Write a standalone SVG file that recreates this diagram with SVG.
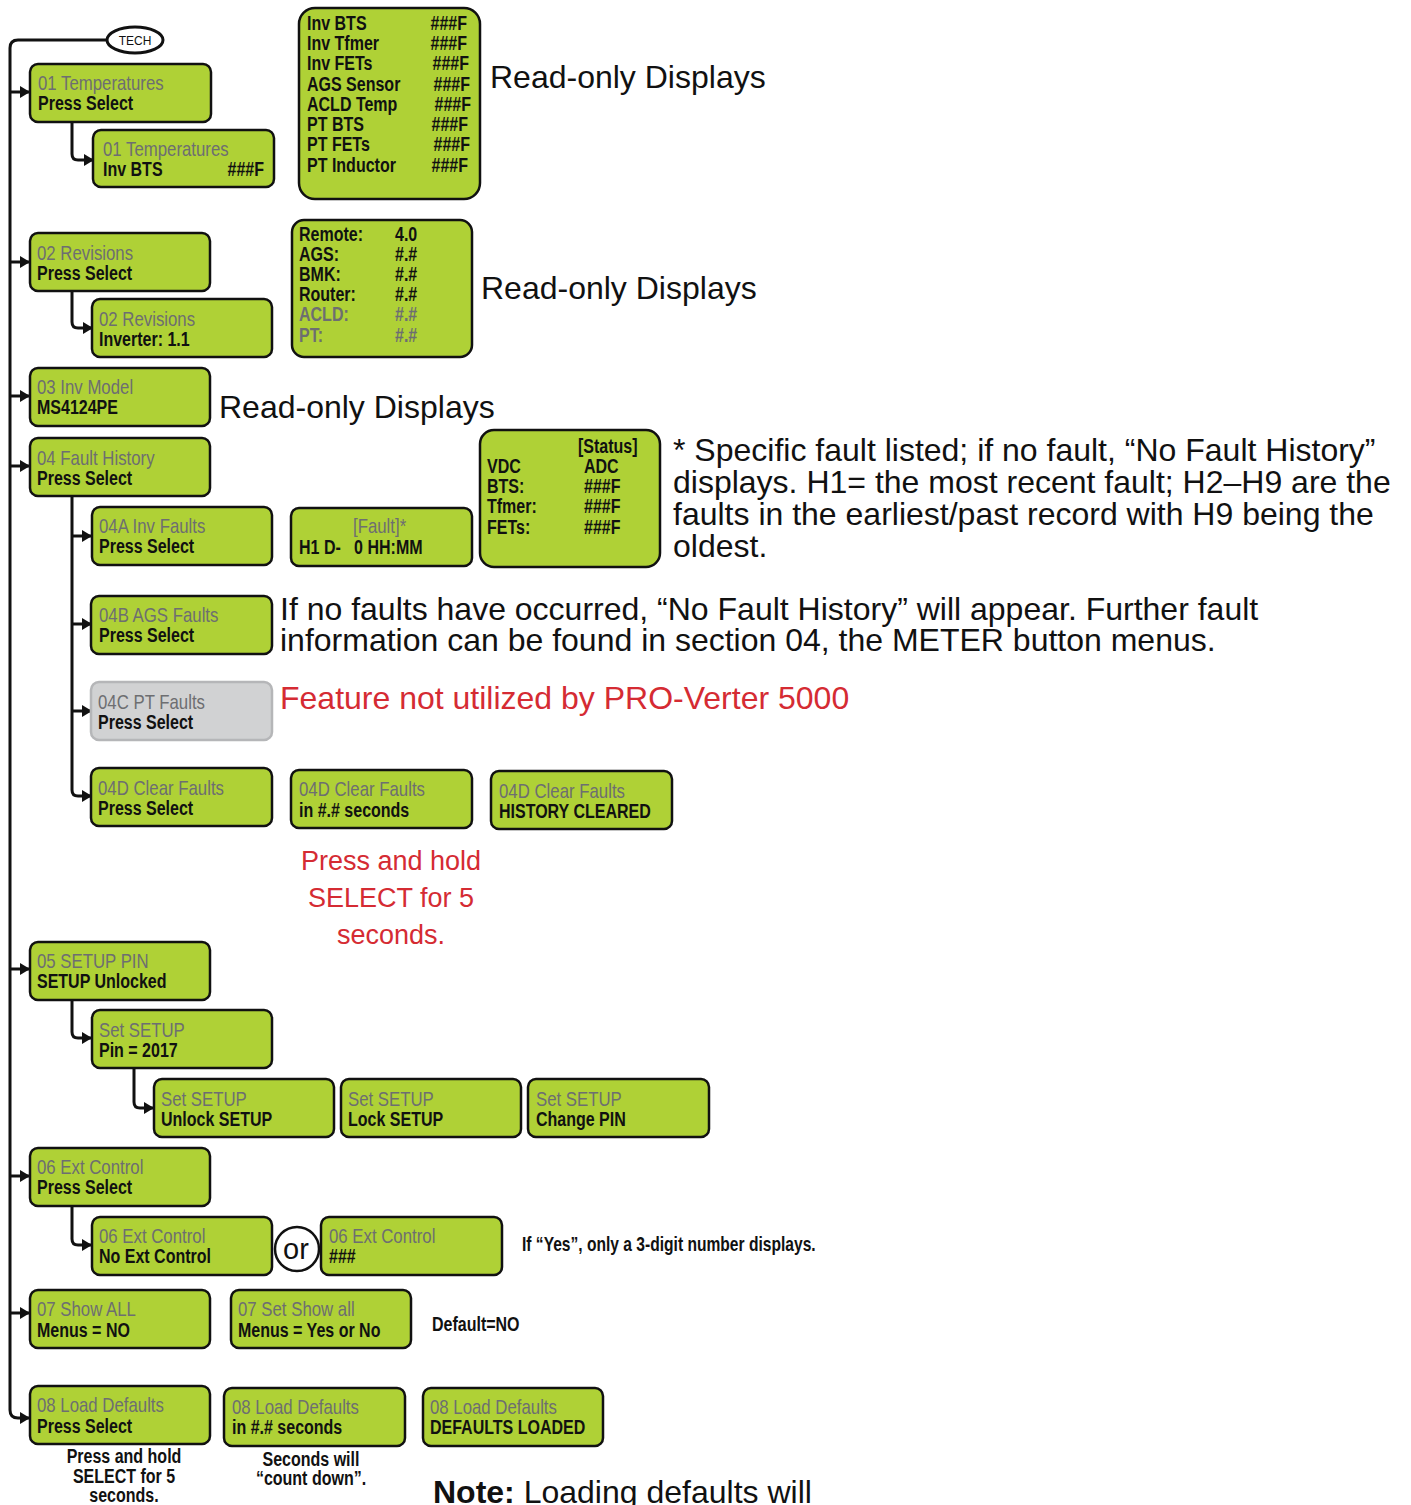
<svg xmlns="http://www.w3.org/2000/svg" width="1411" height="1505" viewBox="0 0 1411 1505">
<style>
.b{fill:#afd136;stroke:#111;stroke-width:2.5}
.g{fill:#d1d2d3;stroke:#b5b6b8;stroke-width:2.5}
.t1{font-family:"Liberation Sans",Arial,sans-serif;font-size:20px;fill:#6d6e71}
.t2{font-family:"Liberation Sans",Arial,sans-serif;font-size:20px;font-weight:bold;fill:#111}
.c{font-family:"Liberation Sans",Arial,sans-serif;font-size:20px;fill:#111}
.big{font-family:"Liberation Sans",Arial,sans-serif;font-size:32px;fill:#111}
.red{font-family:"Liberation Sans",Arial,sans-serif;fill:#d52b33}
.ln{fill:none;stroke:#111;stroke-width:3}
</style>
<defs>
<marker id="ah" markerUnits="userSpaceOnUse" markerWidth="10" markerHeight="12" refX="9" refY="6" orient="auto">
<path d="M0,0 L10,6 L0,12 z" fill="#111"/>
</marker>
</defs>
<g id="connectors">
<path class="ln" d="M108,40 H18 Q10,40 10,48 V1410 Q10,1418 18,1418 H29" marker-end="url(#ah)"/>
<path class="ln" d="M10,92 H29" marker-end="url(#ah)"/>
<path class="ln" d="M10,262 H29" marker-end="url(#ah)"/>
<path class="ln" d="M10,396 H29" marker-end="url(#ah)"/>
<path class="ln" d="M10,466 H29" marker-end="url(#ah)"/>
<path class="ln" d="M10,969 H29" marker-end="url(#ah)"/>
<path class="ln" d="M10,1176 H29" marker-end="url(#ah)"/>
<path class="ln" d="M10,1313 H29" marker-end="url(#ah)"/>
<path class="ln" d="M72,122 V154 Q72,160 78,160 H93" marker-end="url(#ah)"/>
<path class="ln" d="M72,291 V322 Q72,328 78,328 H92" marker-end="url(#ah)"/>
<path class="ln" d="M72,496 V790 Q72,796 78,796 H91" marker-end="url(#ah)"/>
<path class="ln" d="M72,536 H91" marker-end="url(#ah)"/>
<path class="ln" d="M72,624 H91" marker-end="url(#ah)"/>
<path class="ln" d="M72,711 H91" marker-end="url(#ah)"/>
<path class="ln" d="M72,1000 V1032 Q72,1038 78,1038 H91" marker-end="url(#ah)"/>
<path class="ln" d="M134,1068 V1102 Q134,1108 140,1108 H153" marker-end="url(#ah)"/>
<path class="ln" d="M72,1206 V1239 Q72,1245 78,1245 H91" marker-end="url(#ah)"/>
</g>
<g id="tech">
<ellipse cx="135" cy="40" rx="28" ry="13" fill="#fff" stroke="#111" stroke-width="3"/>
<text x="135" y="45" text-anchor="middle" font-family="Liberation Sans,Arial,sans-serif" font-size="12" fill="#111">TECH</text>
</g>
<g id="n01">
<rect class="b" x="30" y="64" width="181" height="58" rx="8"/>
<text class="t1" transform="translate(38,90) scale(.84,1)">01 Temperatures</text>
<text class="t2" transform="translate(38,110) scale(.8,1)">Press Select</text>
</g>
<g id="n01a">
<rect class="b" x="93" y="130" width="181" height="57" rx="8"/>
<text class="t1" transform="translate(103,156) scale(.84,1)">01 Temperatures</text>
<text class="t2" transform="translate(103,176) scale(.8,1)">Inv BTS</text>
<text class="t2" text-anchor="end" transform="translate(264,176) scale(.8,1)">###F</text>
</g>
<g id="temps">
<rect class="b" x="299" y="8" width="181" height="191" rx="16"/>
<text class="t2" transform="translate(307,30) scale(.8,1)">Inv BTS</text><text class="t2" text-anchor="end" transform="translate(467,30) scale(.8,1)">###F</text>
<text class="t2" transform="translate(307,50) scale(.8,1)">Inv Tfmer</text><text class="t2" text-anchor="end" transform="translate(467,50) scale(.8,1)">###F</text>
<text class="t2" transform="translate(307,70) scale(.8,1)">Inv FETs</text><text class="t2" text-anchor="end" transform="translate(469,70) scale(.8,1)">###F</text>
<text class="t2" transform="translate(307,91) scale(.8,1)">AGS Sensor</text><text class="t2" text-anchor="end" transform="translate(470,91) scale(.8,1)">###F</text>
<text class="t2" transform="translate(307,111) scale(.8,1)">ACLD Temp</text><text class="t2" text-anchor="end" transform="translate(471,111) scale(.8,1)">###F</text>
<text class="t2" transform="translate(307,131) scale(.8,1)">PT BTS</text><text class="t2" text-anchor="end" transform="translate(468,131) scale(.8,1)">###F</text>
<text class="t2" transform="translate(307,151) scale(.8,1)">PT FETs</text><text class="t2" text-anchor="end" transform="translate(470,151) scale(.8,1)">###F</text>
<text class="t2" transform="translate(307,172) scale(.8,1)">PT Inductor</text><text class="t2" text-anchor="end" transform="translate(468,172) scale(.8,1)">###F</text>
</g>
<text class="big" x="490" y="88">Read-only Displays</text>
<g id="n02">
<rect class="b" x="30" y="233" width="180" height="58" rx="8"/>
<text class="t1" transform="translate(37,260) scale(.84,1)">02 Revisions</text>
<text class="t2" transform="translate(37,280) scale(.8,1)">Press Select</text>
</g>
<g id="n02a">
<rect class="b" x="92" y="299" width="180" height="58" rx="8"/>
<text class="t1" transform="translate(99,326) scale(.84,1)">02 Revisions</text>
<text class="t2" transform="translate(99,346) scale(.8,1)">Inverter: 1.1</text>
</g>
<g id="revs">
<rect class="b" x="292" y="220" width="180" height="137" rx="12"/>
<text class="t2" transform="translate(299,241) scale(.8,1)">Remote:</text><text class="t2" transform="translate(395,241) scale(.8,1)">4.0</text>
<text class="t2" transform="translate(299,261) scale(.8,1)">AGS:</text><text class="t2" transform="translate(395,261) scale(.8,1)">#.#</text>
<text class="t2" transform="translate(299,281) scale(.8,1)">BMK:</text><text class="t2" transform="translate(395,281) scale(.8,1)">#.#</text>
<text class="t2" transform="translate(299,301) scale(.8,1)">Router:</text><text class="t2" transform="translate(395,301) scale(.8,1)">#.#</text>
<text class="t2" style="fill:#6d6e71" transform="translate(299,321) scale(.8,1)">ACLD:</text><text class="t2" style="fill:#6d6e71" transform="translate(395,321) scale(.8,1)">#.#</text>
<text class="t2" style="fill:#6d6e71" transform="translate(299,342) scale(.8,1)">PT:</text><text class="t2" style="fill:#6d6e71" transform="translate(395,342) scale(.8,1)">#.#</text>
</g>
<text class="big" x="481" y="299">Read-only Displays</text>
<g id="n03">
<rect class="b" x="30" y="368" width="180" height="58" rx="8"/>
<text class="t1" transform="translate(37,394) scale(.84,1)">03 Inv Model</text>
<text class="t2" transform="translate(37,414) scale(.8,1)">MS4124PE</text>
</g>
<text class="big" x="219" y="418">Read-only Displays</text>
<g id="n04">
<rect class="b" x="30" y="438" width="180" height="58" rx="8"/>
<text class="t1" transform="translate(37,465) scale(.84,1)">04 Fault History</text>
<text class="t2" transform="translate(37,485) scale(.8,1)">Press Select</text>
</g>
<g id="n04a">
<rect class="b" x="92" y="507" width="180" height="58" rx="8"/>
<text class="t1" transform="translate(99,533) scale(.84,1)">04A Inv Faults</text>
<text class="t2" transform="translate(99,553) scale(.8,1)">Press Select</text>
</g>
<g id="fault">
<rect class="b" x="291" y="508" width="181" height="58" rx="8"/>
<text class="t1" transform="translate(353,533) scale(.84,1)">[Fault]*</text>
<text class="t2" xml:space="preserve" transform="translate(299,554) scale(.8,1)">H1 D-   0 HH:MM</text>
</g>
<g id="status">
<rect class="b" x="480" y="430" width="180" height="137" rx="14"/>
<text class="t2" transform="translate(578,453) scale(.8,1)">[Status]</text>
<text class="t2" transform="translate(487,473) scale(.8,1)">VDC</text><text class="t2" transform="translate(584,473) scale(.8,1)">ADC</text>
<text class="t2" transform="translate(487,493) scale(.8,1)">BTS:</text><text class="t2" transform="translate(584,493) scale(.8,1)">###F</text>
<text class="t2" transform="translate(487,513) scale(.8,1)">Tfmer:</text><text class="t2" transform="translate(584,513) scale(.8,1)">###F</text>
<text class="t2" transform="translate(487,534) scale(.8,1)">FETs:</text><text class="t2" transform="translate(584,534) scale(.8,1)">###F</text>
</g>
<g class="big">
<text x="673" y="461">* Specific fault listed; if no fault, “No Fault History”</text>
<text x="673" y="493">displays. H1= the most recent fault; H2–H9 are the</text>
<text x="673" y="525">faults in the earliest/past record with H9 being the</text>
<text x="673" y="557">oldest.</text>
</g>
<g id="n04b">
<rect class="b" x="91" y="596" width="181" height="58" rx="8"/>
<text class="t1" transform="translate(99,622) scale(.84,1)">04B AGS Faults</text>
<text class="t2" transform="translate(99,642) scale(.8,1)">Press Select</text>
</g>
<g class="big">
<text x="280" y="620">If no faults have occurred, “No Fault History” will appear. Further fault</text>
<text x="280" y="651">information can be found in section 04, the METER button menus.</text>
</g>
<g id="n04c">
<rect class="g" x="91" y="682" width="181" height="58" rx="8"/>
<text class="t1" transform="translate(98,709) scale(.84,1)">04C PT Faults</text>
<text class="t2" transform="translate(98,729) scale(.8,1)">Press Select</text>
</g>
<text class="red" x="280" y="709" font-size="32">Feature not utilized by PRO-Verter 5000</text>
<g id="n04d">
<rect class="b" x="91" y="768" width="181" height="58" rx="8"/>
<text class="t1" transform="translate(98,795) scale(.84,1)">04D Clear Faults</text>
<text class="t2" transform="translate(98,815) scale(.8,1)">Press Select</text>
</g>
<g id="n04d2">
<rect class="b" x="291" y="770" width="181" height="58" rx="8"/>
<text class="t1" transform="translate(299,796) scale(.84,1)">04D Clear Faults</text>
<text class="t2" transform="translate(299,817) scale(.8,1)">in #.# seconds</text>
</g>
<g id="n04d3">
<rect class="b" x="491" y="771" width="181" height="58" rx="8"/>
<text class="t1" transform="translate(499,798) scale(.84,1)">04D Clear Faults</text>
<text class="t2" transform="translate(499,818) scale(.8,1)">HISTORY CLEARED</text>
</g>
<g class="red" font-size="27" text-anchor="middle">
<text x="391" y="870">Press and hold</text>
<text x="391" y="907">SELECT for 5</text>
<text x="391" y="944">seconds.</text>
</g>
<g id="n05">
<rect class="b" x="30" y="942" width="180" height="58" rx="8"/>
<text class="t1" transform="translate(37,968) scale(.84,1)">05 SETUP PIN</text>
<text class="t2" transform="translate(37,988) scale(.8,1)">SETUP Unlocked</text>
</g>
<g id="n05a">
<rect class="b" x="92" y="1010" width="180" height="58" rx="8"/>
<text class="t1" transform="translate(99,1037) scale(.84,1)">Set SETUP</text>
<text class="t2" transform="translate(99,1057) scale(.8,1)">Pin = 2017</text>
</g>
<g id="n05b">
<rect class="b" x="154" y="1079" width="180" height="58" rx="8"/>
<text class="t1" transform="translate(161,1106) scale(.84,1)">Set SETUP</text>
<text class="t2" transform="translate(161,1126) scale(.8,1)">Unlock SETUP</text>
</g>
<g id="n05c">
<rect class="b" x="341" y="1079" width="180" height="58" rx="8"/>
<text class="t1" transform="translate(348,1106) scale(.84,1)">Set SETUP</text>
<text class="t2" transform="translate(348,1126) scale(.8,1)">Lock SETUP</text>
</g>
<g id="n05d">
<rect class="b" x="528" y="1079" width="181" height="58" rx="8"/>
<text class="t1" transform="translate(536,1106) scale(.84,1)">Set SETUP</text>
<text class="t2" transform="translate(536,1126) scale(.8,1)">Change PIN</text>
</g>
<g id="n06">
<rect class="b" x="30" y="1148" width="180" height="58" rx="8"/>
<text class="t1" transform="translate(37,1174) scale(.84,1)">06 Ext Control</text>
<text class="t2" transform="translate(37,1194) scale(.8,1)">Press Select</text>
</g>
<g id="n06a">
<rect class="b" x="92" y="1217" width="180" height="58" rx="8"/>
<text class="t1" transform="translate(99,1243) scale(.84,1)">06 Ext Control</text>
<text class="t2" transform="translate(99,1263) scale(.8,1)">No Ext Control</text>
</g>
<g id="or">
<circle cx="297" cy="1249" r="22" fill="#fff" stroke="#111" stroke-width="2.5"/>
<text x="296" y="1259" text-anchor="middle" font-family="Liberation Sans,Arial,sans-serif" font-size="29" fill="#111">or</text>
</g>
<g id="n06b">
<rect class="b" x="321" y="1217" width="181" height="58" rx="8"/>
<text class="t1" transform="translate(329,1243) scale(.84,1)">06 Ext Control</text>
<text class="t2" transform="translate(329,1263) scale(.8,1)">###</text>
</g>
<text class="c" font-weight="bold" transform="translate(522,1251) scale(.78,1)" font-size="18">If “Yes”, only a 3-digit number displays.</text>
<g id="n07">
<rect class="b" x="30" y="1290" width="180" height="58" rx="8"/>
<text class="t1" transform="translate(37,1316) scale(.84,1)">07 Show ALL</text>
<text class="t2" transform="translate(37,1337) scale(.8,1)">Menus = NO</text>
</g>
<g id="n07a">
<rect class="b" x="231" y="1290" width="180" height="58" rx="8"/>
<text class="t1" transform="translate(238,1316) scale(.84,1)">07 Set Show all</text>
<text class="t2" transform="translate(238,1337) scale(.8,1)">Menus = Yes or No</text>
</g>
<text class="c" font-weight="bold" font-size="18" transform="translate(432,1331) scale(.8,1)">Default=NO</text>
<g id="n08">
<rect class="b" x="30" y="1386" width="180" height="58" rx="8"/>
<text class="t1" transform="translate(37,1412) scale(.84,1)">08 Load Defaults</text>
<text class="t2" transform="translate(37,1433) scale(.8,1)">Press Select</text>
</g>
<g id="n08a">
<rect class="b" x="224" y="1388" width="181" height="58" rx="8"/>
<text class="t1" transform="translate(232,1414) scale(.84,1)">08 Load Defaults</text>
<text class="t2" transform="translate(232,1434) scale(.8,1)">in #.# seconds</text>
</g>
<g id="n08b">
<rect class="b" x="423" y="1388" width="180" height="58" rx="8"/>
<text class="t1" transform="translate(430,1414) scale(.84,1)">08 Load Defaults</text>
<text class="t2" transform="translate(430,1434) scale(.8,1)">DEFAULTS LOADED</text>
</g>
<g class="c" text-anchor="middle" font-weight="bold" font-size="19">
<text transform="translate(124,1463) scale(.8,1)">Press and hold</text>
<text transform="translate(124,1483) scale(.8,1)">SELECT for 5</text>
<text transform="translate(124,1502) scale(.8,1)">seconds.</text>
<text transform="translate(311,1466) scale(.8,1)">Seconds will</text>
<text transform="translate(311,1485) scale(.8,1)">“count down”.</text>
</g>
<text class="big" x="433" y="1503"><tspan font-weight="bold">Note:</tspan> Loading defaults will</text>
</svg>
